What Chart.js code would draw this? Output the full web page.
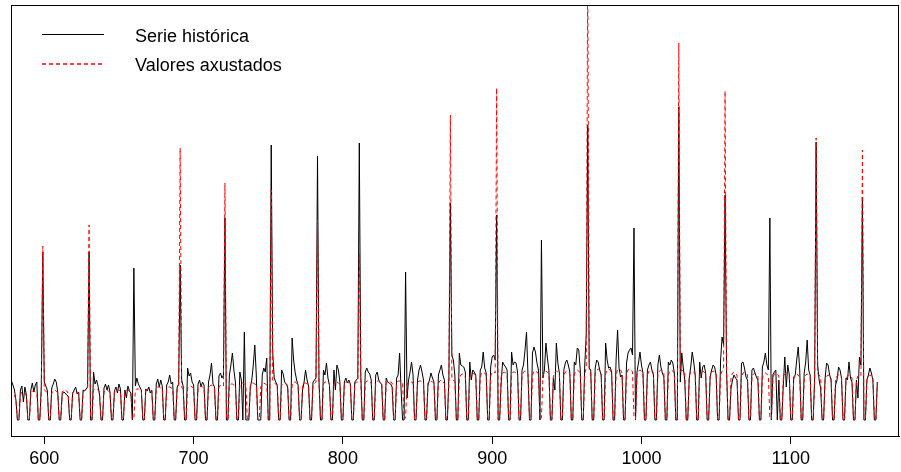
<!DOCTYPE html>
<html><head><meta charset="utf-8">
<script src="https://cdn.jsdelivr.net/npm/chart.js@4/dist/chart.umd.min.js"></script>
<style>html,body{margin:0;padding:0;background:#fff;}</style>
</head><body>
<canvas id="c" width="901" height="472"></canvas>
<script>
// ---- data (daily index) ----
const startDay = 577;           // first day index shown (Monday)
const xTicks = [600, 700, 800, 900, 1000, 1100];
const xRange = [577.7, 1172.5];
const yRange = [-16, 415];
const legendLabels = ['Serie histórica', 'Valores axustados'];
const seriesColors = ['#000000', '#FF0000'];

// one row per week: Mon..Sun
const serieHistorica = [
 37,39,35,30,20,0,0,  30,34,18,33,25,0,0,  30,37,28,35,38,0,0,  33,168,38,34,30,0,0,
 32,36,41,38,28,0,0,  26,28,27,25,24,0,0,  27,30,33,26,28,0,0,  30,29,31,33,168,0,0,
 48,36,40,34,25,0,0,  32,36,30,35,28,0,0,  29,33,27,36,31,0,0,  30,22,34,29,27,0,152,
 34,42,36,33,30,0,0,  31,29,33,27,30,0,0,  36,41,33,40,34,0,0,  35,38,45,36,38,0,0,
 33,36,155,40,34,0,0, 52,44,47,38,35,0,0,  36,40,33,38,35,0,0,  38,45,57,36,33,0,0,
 44,47,42,45,202,0,0, 45,55,67,50,38,0,0,  48,40,0,88,0,0,0,    33,40,55,75,45,0,0,
 0,45,52,48,62,0,0,   275,68,42,38,35,0,0, 50,46,38,36,33,0,0,  82,60,48,40,35,0,0,
 30,38,50,40,34,0,0,  38,40,42,264,40,0,0, 50,45,57,42,35,0,0,  50,30,55,50,38,0,0,
 38,42,37,40,36,0,0,  38,40,42,277,45,0,0, 48,52,48,46,40,0,0,  45,48,40,37,36,0,0,
 42,38,37,36,33,0,0,  42,45,67,30,0,0,148, 22,40,48,58,45,0,0,  40,50,55,48,40,0,0,
 35,40,47,42,38,0,0,  45,50,55,45,40,0,0,  42,217,65,60,45,0,0, 67,55,54,53,48,0,0,
 58,40,50,48,45,0,0,  50,53,68,52,47,0,0,  53,63,65,60,205,0,0, 37,58,55,53,50,0,0,
 68,55,58,57,48,0,0,  50,55,70,88,45,0,0,  67,73,68,57,50,0,180, 42,50,77,62,50,0,0,
 42,30,77,57,47,0,0,  50,57,60,55,48,0,0,  58,55,72,70,50,0,0,  55,85,295,52,50,0,0,
 52,60,58,50,45,0,0,  77,60,52,53,48,0,0,  60,90,52,43,45,0,0,  57,67,70,72,65,192,0,
 48,57,68,55,47,0,0,  50,55,58,50,45,0,0,  55,65,53,47,43,0,0,  58,55,60,57,47,0,0,
 313,38,67,52,40,0,0, 42,53,68,58,45,0,0,  58,42,53,55,47,0,0,  43,50,55,53,45,0,0,
 60,83,75,225,50,0,0, 32,40,45,42,40,0,0,  57,58,52,43,40,0,0,  50,52,47,43,40,0,0,
 53,58,67,55,50,202,0, 45,48,50,0,40,0,0,  35,63,33,55,45,0,0,  43,45,60,73,50,0,0,
 47,58,80,50,45,0,0,  40,278,55,40,32,0,0, 42,57,55,45,40,0,0,  35,40,53,50,42,0,0,
 42,40,58,42,38,0,0,  40,22,63,55,223,0,0, 40,45,52,47,40,0,0,
 38
];

const valoresAxustados = [
 24,27,26,25,20,1,1,  25,28,28,27,24,1,1,  26,29,29,28,27,1,1,  28,174,30,29,27,1,1,
 27,29,30,29,27,1,1,  28,30,30,29,27,1,1,  27,29,29,28,27,1,1,  28,30,30,31,195,1,1,
 30,31,31,30,28,1,1,  28,30,30,29,28,1,1,  28,31,30,30,29,1,1,  28,30,30,29,28,1,2,
 30,31,31,30,29,1,1,  29,31,31,30,29,1,1,  31,33,33,32,31,1,1,  31,33,33,32,31,1,1,
 31,33,272,33,31,1,1, 32,34,34,33,32,1,1,  32,34,34,33,32,1,1,  32,34,35,33,32,1,1,
 33,35,35,34,237,1,1, 34,36,36,35,34,1,1,  35,37,37,36,35,1,1,  34,37,37,36,35,1,1,
 33,36,37,36,35,1,1,  230,40,37,36,35,1,1, 35,37,37,36,35,1,1,  35,38,38,37,35,1,1,
 35,37,37,36,35,1,1,  35,37,38,200,36,1,1, 36,38,38,37,36,1,1,  36,38,38,37,36,1,1,
 36,38,38,37,36,1,1,  36,38,38,167,37,1,1, 37,39,39,38,37,1,1,  37,39,39,38,37,1,1,
 37,39,39,38,37,1,1,  37,39,39,38,37,1,2,  36,38,39,38,37,1,1,  37,39,39,38,37,1,1,
 37,39,39,38,37,1,1,  37,39,40,38,37,1,1,  38,305,41,40,38,1,1, 40,45,46,45,43,1,1,
 42,46,47,46,44,1,1,  43,47,48,47,45,1,1,  44,48,48,47,332,1,1, 43,47,48,47,45,1,1,
 44,48,48,47,45,1,1,  44,48,49,48,46,1,1,  45,49,49,48,46,1,2,  44,48,49,48,46,1,1,
 44,48,49,48,46,1,1,  45,48,49,48,46,1,1,  45,49,50,49,47,1,1,  46,52,460,50,48,1,1,
 46,50,51,50,47,1,1,  46,50,51,50,47,1,1,  46,50,51,50,47,1,1,  46,50,51,50,48,2,1,
 45,49,50,49,47,1,1,  45,49,50,49,47,1,1,  45,49,50,49,47,1,1,  45,49,50,49,47,1,1,
 377,48,50,49,47,1,1, 44,48,49,48,46,1,1,  44,48,49,48,46,1,1,  44,48,49,48,46,1,1,
 45,49,50,329,47,1,1, 43,47,48,47,45,1,1,  43,47,48,47,45,1,1,  42,46,47,46,44,1,1,
 42,46,47,46,44,2,1,  42,46,47,46,44,1,1,  42,46,47,46,44,1,1,  41,45,46,45,43,1,1,
 41,45,46,45,43,1,1,  41,282,46,45,43,1,1, 40,44,45,44,42,1,1,  40,44,45,44,42,1,1,
 40,44,45,44,42,1,1,  40,44,45,44,270,1,1, 40,44,45,44,42,1,1,
 38
];

// ---- chart ----
const toPoints = arr => arr.map((v, i) => ({ x: startDay + i, y: v }));
const FONT = 'Liberation Sans, Arial, Helvetica, sans-serif';

const frameAndLegend = {
  id: 'frameAndLegend',
  afterDraw(chart) {
    const { ctx, chartArea: a } = chart;
    ctx.save();
    ctx.strokeStyle = '#000';
    ctx.lineWidth = 1;
    ctx.setLineDash([]);
    ctx.strokeRect(Math.round(a.left) + 0.5, Math.round(a.top) + 0.5,
                   Math.round(a.right - a.left) - 1, Math.round(a.bottom - a.top));
    ctx.restore();

    // legend (drawn inside the plot area, top-left)
    const lx0 = 42, lx1 = 104, tx = 135;
    const rows = [
      { y: 34.5, ty: 42, dash: [], w: 1.2 },
      { y: 64, ty: 71, dash: [4, 3], w: 1.3 }
    ];
    rows.forEach((r, i) => {
      ctx.save();
      ctx.lineWidth = r.w;
      ctx.setLineDash(r.dash);
      ctx.strokeStyle = seriesColors[i];
      ctx.beginPath();
      ctx.moveTo(lx0, r.y);
      ctx.lineTo(lx1, r.y);
      ctx.stroke();
      ctx.restore();
      ctx.save();
      ctx.font = '18px ' + FONT;
      ctx.textBaseline = 'alphabetic';
      ctx.textAlign = 'left';
      ctx.fillStyle = '#000';
      ctx.fillText(legendLabels[i], tx, r.ty);
      ctx.restore();
    });
  }
};

new Chart(document.getElementById('c'), {
  type: 'line',
  data: {
    datasets: [
      { label: legendLabels[1], data: toPoints(valoresAxustados), borderColor: seriesColors[1],
        borderWidth: 1, borderDash: [4, 3], pointRadius: 0, tension: 0, fill: false, order: 1 },
      { label: legendLabels[0], data: toPoints(serieHistorica), borderColor: seriesColors[0],
        borderWidth: 1, pointRadius: 0, tension: 0, fill: false, order: 2 }
    ]
  },
  options: {
    responsive: false,
    animation: false,
    devicePixelRatio: 1,
    layout: { padding: { left: 11, right: 2, top: 5, bottom: 0 } },
    plugins: { legend: { display: false }, tooltip: { enabled: false } },
    scales: {
      x: {
        type: 'linear', min: xRange[0], max: xRange[1], position: 'bottom',
        afterBuildTicks: s => { s.ticks = xTicks.map(v => ({ value: v })); },
        afterFit: s => { s.height = 36; },
        ticks: { color: '#000', font: { family: FONT, size: 18 }, padding: 4,
                 autoSkip: false, maxRotation: 0, callback: v => String(v) },
        grid: { display: true, drawOnChartArea: false, drawTicks: true, tickLength: 8,
                color: '#000', lineWidth: 1 },
        border: { display: true, color: '#000', width: 1 }
      },
      y: { display: false, min: yRange[0], max: yRange[1] }
    }
  },
  plugins: [frameAndLegend]
});
</script>
</body></html>
